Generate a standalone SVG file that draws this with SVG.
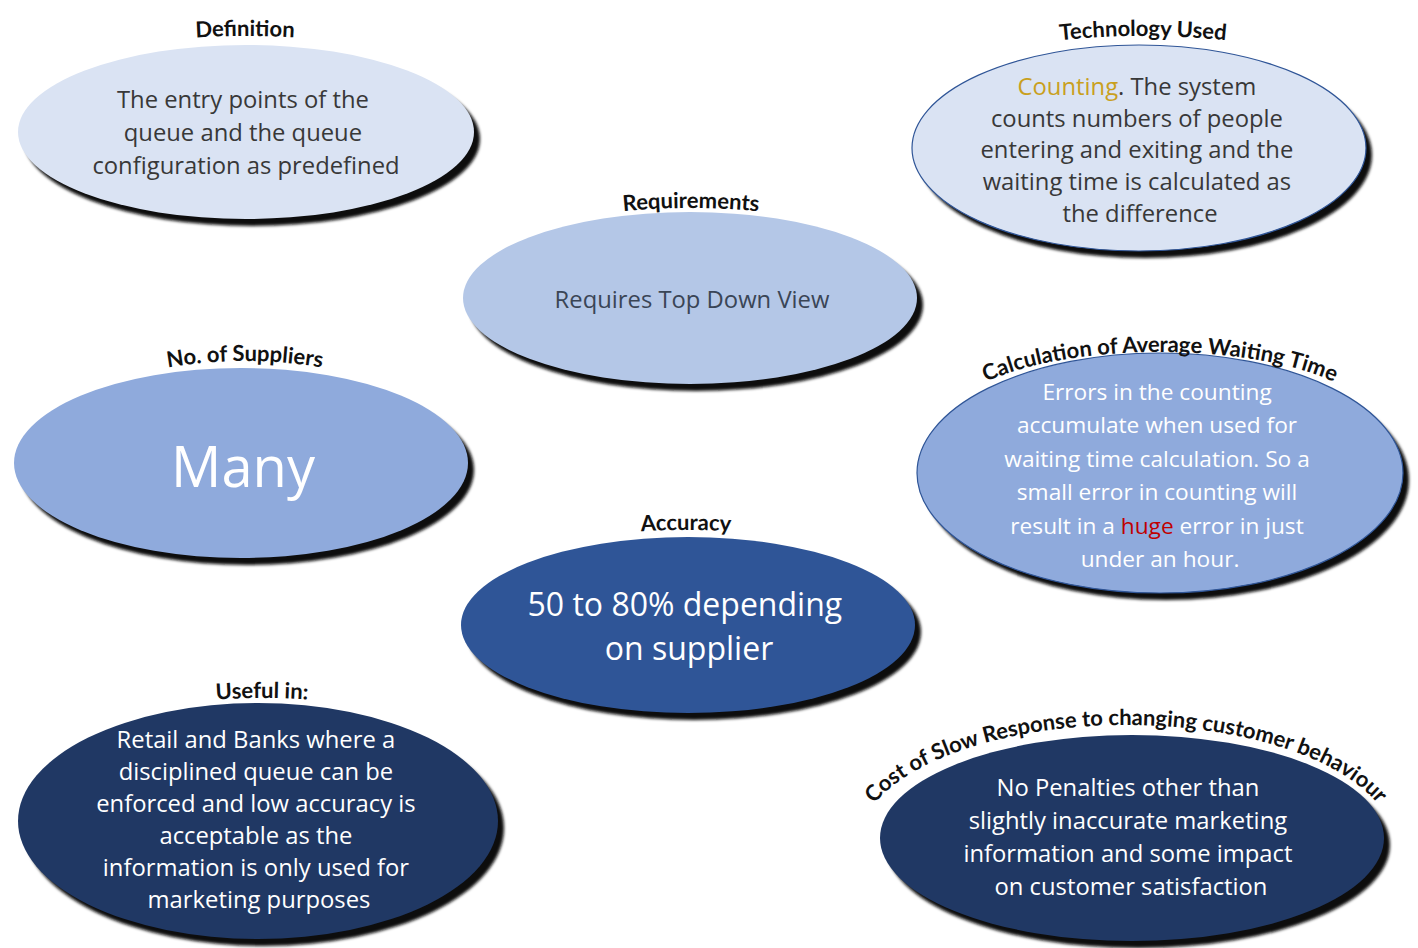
<svg xmlns="http://www.w3.org/2000/svg" width="1418" height="948" viewBox="0 0 1418 948">
  <style>
    .title { font-family: "Lato", "Liberation Sans", sans-serif; font-weight: bold; font-size: 22px; fill: #111111; }
    .body { font-family: "Open Sans", "Liberation Sans", sans-serif; font-size: 23.8px; text-anchor: middle; }
    .dark { fill: #383838; }
    .light { fill: #ffffff; }
    .shadow { fill: #0e0e0e; filter: url(#soft); }
    .rim { stroke: #2f5597; stroke-width: 1.2; }
  </style>
  <defs>
    <filter id="soft" x="-10%" y="-10%" width="120%" height="130%">
      <feGaussianBlur stdDeviation="1.6"/>
    </filter>
    <!-- baselines for the arched titles -->
    <path id="arc-def" d="M 145 42 Q 245 30 345 42"/>
    <path id="arc-tech" d="M 1030 44 Q 1143 28 1256 44"/>
    <path id="arc-req" d="M 600 214 Q 691 202 782 214"/>
    <path id="arc-sup" d="M 140 373 Q 245 349 350 373"/>
    <path id="arc-acc" d="M 600 535 Q 686 525 772 535"/>
    <path id="arc-use" d="M 180 703 Q 262 693 344 703"/>
    <path id="arc-calc" d="M 948 422 A 212 70 0 0 1 1372 422"/>
    <path id="arc-cost" d="M 858 845 A 268 120 0 0 1 1394 845"/>
  </defs>

  <rect width="1418" height="948" fill="#ffffff"/>

  <!-- no connectors in this chart -->
  <g id="connectors"/>

  <g id="definition">
    <ellipse class="shadow" cx="252" cy="139" rx="228" ry="87"/>
    <ellipse cx="246" cy="132" rx="228" ry="87" fill="#dae3f3"/>
    <text class="title"><textPath href="#arc-def" startOffset="50%" text-anchor="middle">Definition</textPath></text>
    <text class="body dark">
      <tspan x="246" y="108">The entry points of the</tspan>
      <tspan x="246" y="141">queue and the queue</tspan>
      <tspan x="246" y="174">configuration as predefined</tspan>
    </text>
  </g>

  <g id="technology">
    <ellipse class="shadow" cx="1145" cy="155" rx="227" ry="103"/>
    <ellipse class="rim" cx="1139" cy="148" rx="227" ry="103" fill="#dae3f3"/>
    <text class="title"><textPath href="#arc-tech" startOffset="50%" text-anchor="middle">Technology Used</textPath></text>
    <text class="body dark">
      <tspan x="1140" y="95"><tspan fill="#c9a01e">Counting</tspan>. The system</tspan>
      <tspan x="1140" y="127">counts numbers of people</tspan>
      <tspan x="1140" y="158">entering and exiting and the</tspan>
      <tspan x="1140" y="190">waiting time is calculated as</tspan>
      <tspan x="1140" y="222">the difference</tspan>
    </text>
  </g>

  <g id="requirements">
    <ellipse class="shadow" cx="696" cy="305" rx="227" ry="86"/>
    <ellipse cx="690" cy="298" rx="227" ry="86" fill="#b4c7e7"/>
    <text class="title"><textPath href="#arc-req" startOffset="50%" text-anchor="middle">Requirements</textPath></text>
    <text class="body" fill="#3a4556" x="692" y="308">Requires Top Down View</text>
  </g>

  <g id="suppliers">
    <ellipse class="shadow" cx="247" cy="470" rx="227" ry="95"/>
    <ellipse cx="241" cy="463" rx="227" ry="95" fill="#8faadc"/>
    <text class="title"><textPath href="#arc-sup" startOffset="50%" text-anchor="middle">No. of Suppliers</textPath></text>
    <text class="body light" x="243" y="487" style="font-size:56px">Many</text>
  </g>

  <g id="calculation">
    <ellipse class="shadow" cx="1166" cy="480" rx="243" ry="120"/>
    <ellipse class="rim" cx="1160" cy="473" rx="243" ry="120" fill="#8faadc"/>
    <text class="title"><textPath href="#arc-calc" startOffset="50%" text-anchor="middle">Calculation of Average Waiting Time</textPath></text>
    <text class="body light" style="font-size:22.7px">
      <tspan x="1160" y="400">Errors in the counting</tspan>
      <tspan x="1160" y="433">accumulate when used for</tspan>
      <tspan x="1160" y="467">waiting time calculation. So a</tspan>
      <tspan x="1160" y="500">small error in counting will</tspan>
      <tspan x="1160" y="534">result in a <tspan fill="#c00000">huge</tspan> error in just</tspan>
      <tspan x="1160" y="567">under an hour.</tspan>
    </text>
  </g>

  <g id="accuracy">
    <ellipse class="shadow" cx="694" cy="632" rx="227" ry="88"/>
    <ellipse cx="688" cy="625" rx="227" ry="88" fill="#2f5597"/>
    <text class="title"><textPath href="#arc-acc" startOffset="50%" text-anchor="middle">Accuracy</textPath></text>
    <text class="body light" style="font-size:32px">
      <tspan x="689" y="616">50 to 80% depending</tspan>
      <tspan x="689" y="660">on supplier</tspan>
    </text>
  </g>

  <g id="useful">
    <ellipse class="shadow" cx="264" cy="828" rx="240" ry="118"/>
    <ellipse cx="258" cy="821" rx="240" ry="118" fill="#203864"/>
    <text class="title"><textPath href="#arc-use" startOffset="50%" text-anchor="middle">Useful in:</textPath></text>
    <text class="body light">
      <tspan x="259" y="748">Retail and Banks where a</tspan>
      <tspan x="259" y="780">disciplined queue can be</tspan>
      <tspan x="259" y="812">enforced and low accuracy is</tspan>
      <tspan x="259" y="844">acceptable as the</tspan>
      <tspan x="259" y="876">information is only used for</tspan>
      <tspan x="259" y="908">marketing purposes</tspan>
    </text>
  </g>

  <g id="cost">
    <ellipse class="shadow" cx="1138" cy="845" rx="252" ry="103"/>
    <ellipse cx="1132" cy="838" rx="252" ry="103" fill="#203864"/>
    <text class="title"><textPath href="#arc-cost" startOffset="50%" text-anchor="middle">Cost of Slow Response to changing customer behaviour</textPath></text>
    <text class="body light">
      <tspan x="1131" y="796">No Penalties other than</tspan>
      <tspan x="1131" y="829">slightly inaccurate marketing</tspan>
      <tspan x="1131" y="862">information and some impact</tspan>
      <tspan x="1131" y="895">on customer satisfaction</tspan>
    </text>
  </g>
</svg>
